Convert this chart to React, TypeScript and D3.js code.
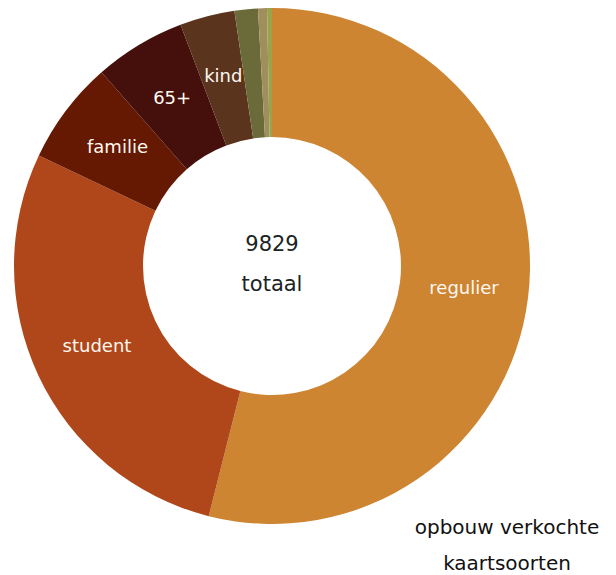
import React from "react";
import * as d3 from "d3";

const categories = ["regulier", "student", "familie", "65+", "kind", "groep", "overig", "gratis"];
const values = [5302, 2762, 636, 562, 338, 144, 55, 30];
const showLabel = [true, true, true, true, true, false, false, false];
const colors = ["#CD8532", "#B0471A", "#651802", "#45100B", "#5A341C", "#6B6B3A", "#A08F5C", "#9AA24A"];
const centerLines = ["9829", "totaal"];
const titleLines = ["opbouw verkochte", "kaartsoorten"];

const W = 616;
const H = 575;
const cx = 272;
const cy = 266;
const outerR = 258;
const innerR = 129;
const FONT = "'DejaVu Sans', sans-serif";

export default function App() {
  const data = categories.map((c, i) => ({ name: c, value: values[i], color: colors[i], label: showLabel[i] }));
  const pie = d3.pie<any>().sort(null).value((d) => d.value).startAngle(0).endAngle(2 * Math.PI);
  const arcs = pie(data);
  const arc = d3.arc<any>().innerRadius(innerR).outerRadius(outerR);

  return (
    <svg width={W} height={H} style={{ position: "absolute", left: 0, top: 0, background: "#fff" }}>
      <g transform={`translate(${cx},${cy})`}>
        {arcs.map((a, i) => (
          <path key={i} d={arc(a) as string} fill={a.data.color} />
        ))}
        {arcs.map((a, i) => {
          if (!a.data.label) return null;
          const [x, y] = arc.centroid(a);
          return (
            <text
              key={"l" + i}
              x={x}
              y={y}
              dy="0.2em"
              textAnchor="middle"
              fill="#FFF8F0"
              fontFamily={FONT}
              fontSize={18}
              fontWeight={400}
            >
              {a.data.name}
            </text>
          );
        })}
        {centerLines.map((t, i) => (
          <text
            key={"c" + i}
            x={0}
            y={-22 + i * 40}
            textAnchor="middle"
            dominantBaseline="central"
            fill="#1A2424"
            fontFamily={FONT}
            fontSize={21}
            fontWeight={400}
          >
            {t}
          </text>
        ))}
      </g>
      {titleLines.map((t, i) => (
        <text
          key={"t" + i}
          x={507}
          y={527 + i * 36}
          textAnchor="middle"
          dominantBaseline="central"
          fill="#111"
          fontFamily={FONT}
          fontSize={20}
          fontWeight={400}
        >
          {t}
        </text>
      ))}
    </svg>
  );
}
